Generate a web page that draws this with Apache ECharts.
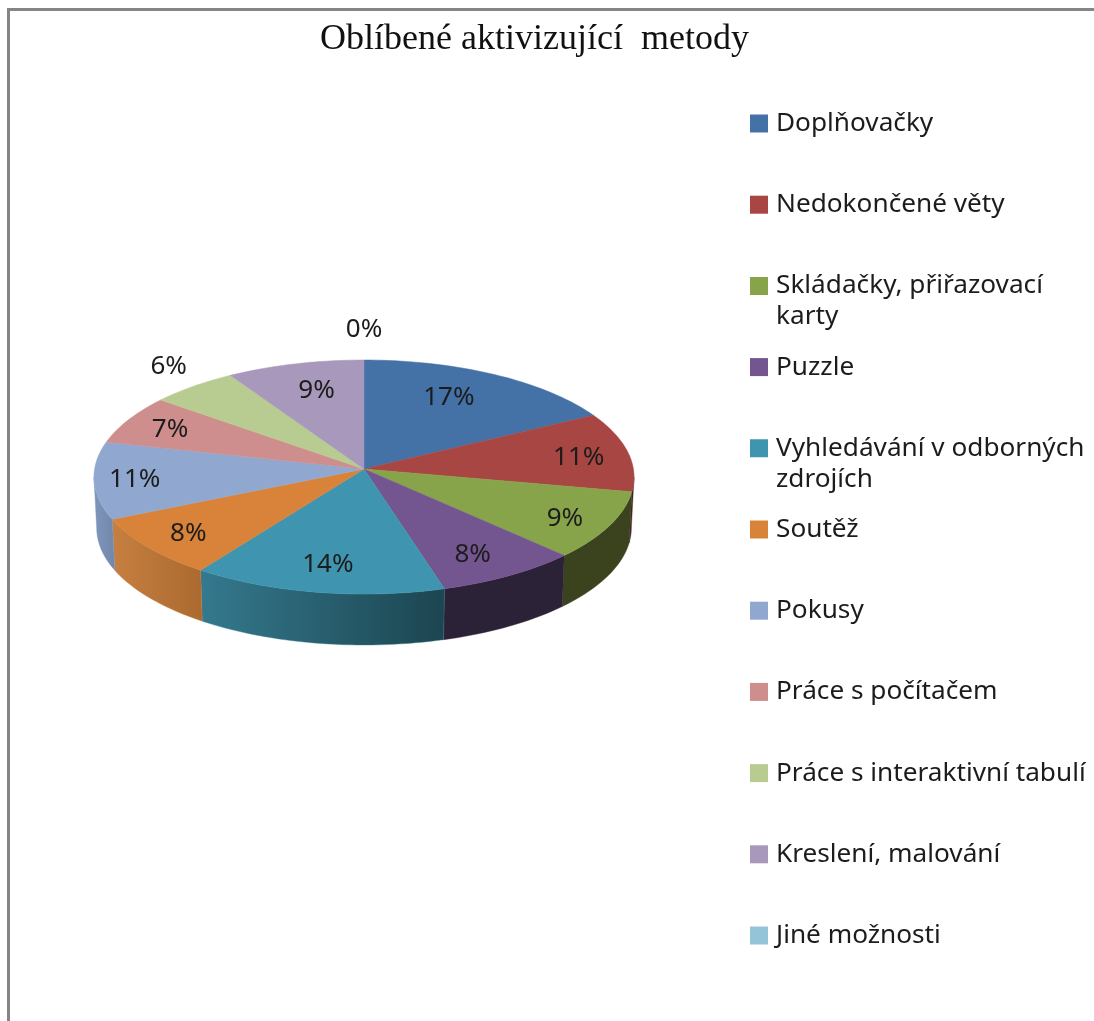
<!doctype html>
<html lang="cs">
<head>
    <meta charset="UTF-8">
    <title>Oblíbené aktivizující metody</title>
    <style>
        html, body { margin: 0; background: #fff; }
        #main { width: 1094px; height: 1021px; }
    </style>
    <script src="https://cdnjs.cloudflare.com/ajax/libs/echarts/6.0.0/echarts.min.js"></script>
</head>
<body>
    <div id="main"></div>
    <script>
        var categories = ['Doplňovačky', 'Nedokončené věty', 'Skládačky, přiřazovací karty', 'Puzzle',
            'Vyhledávání v odborných zdrojích', 'Soutěž', 'Pokusy', 'Práce s počítačem',
            'Práce s interaktivní tabulí', 'Kreslení, malování', 'Jiné možnosti'];
        var values = [17.1, 11, 9.4, 8, 14.2, 8.4, 10.7, 6.8, 5.6, 8.8, 0];
        var colors = ['#4471a6', '#a84643', '#88a44a', '#735590', '#3f95af', '#d98239', '#90a8cf', '#ce8e8d', '#b8cc91', '#a798bc', '#93c4d8'];
        // side wall shading, left and right end of each slice
        var wallColors = [['#2c4a6e', '#2c4a6e'], ['#4a2220', '#3c1c1b'], ['#3a421e', '#3a421e'], ['#2c2238', '#2c2238'],
            ['#34798e', '#1c4550'], ['#c67f40', '#ab6a30'], ['#7f96bc', '#7287a9'], ['#8a5f5e', '#8a5f5e'],
            ['#7d8a62', '#7d8a62'], ['#70667f', '#70667f'], ['#628492', '#628492']];
        // where the percent label sits: share of the radius, and turn from the slice's middle in degrees
        var labelReach = [0.73, 0.81, 0.83, 0.79, 0.78, 0.82, 0.85, 0.82, 1.22, 0.74, 1.31];
        var labelTurn = [-4, 1, 1, 1.5, 0, 0, 0, 0, 2.5, 1.4, 0];
        var wrappedNames = { 'Skládačky, přiřazovací karty': 'Skládačky, přiřazovací\nkarty', 'Vyhledávání v odborných zdrojích': 'Vyhledávání v odborných\nzdrojích' };

        var chartDom = document.getElementById('main');
        var myChart = echarts.init(chartDom);

        var cx = 364, cy = 469, rx = 269.4, ry = 116.45, tilt = 0.0684, depth = 51, bottomShrink = 0.99;
        var total = values.reduce(function (a, b) { return a + b; }, 0);

        // circle on the table -> picture, the front edge comes closer to the viewer
        function project(deg, reach) {
            var a = deg * Math.PI / 180;
            var u = Math.sin(a) * reach, v = -Math.cos(a) * reach;
            var d = 1 - tilt * v;
            return [cx + rx * u / d, cy + ry * v / d];
        }

        function rim(from, to) {
            var pts = [];
            var n = Math.max(2, Math.ceil((to - from) / 1.5));
            for (var i = 0; i <= n; i++) {
                pts.push(project(from + (to - from) * i / n, 1));
            }
            return pts;
        }

        function startAngle(index) {
            var sum = 0;
            for (var i = 0; i < index; i++) sum += values[i];
            return sum / total * 360;
        }

        function renderSlice(index) {
            return function (params, api) {
                var from = startAngle(index);
                var to = from + api.value(0) / total * 360;
                var children = [];
                if (to > from) {
                    // only the front part of the wall can be seen
                    var wallFrom = Math.max(from, 93.9), wallTo = Math.min(to, 266.1);
                    if (wallTo > wallFrom) {
                        var top = rim(wallFrom, wallTo);
                        var bottom = top.map(function (p) {
                            return [cx + (p[0] - cx) * bottomShrink, p[1] + depth];
                        }).reverse();
                        children.push({
                            type: 'polygon', z2: 1,
                            shape: { points: top.concat(bottom) },
                            style: {
                                fill: { type: 'linear', x: 0, y: 0, x2: 1, y2: 0, colorStops: [
                                    { offset: 0, color: wallColors[index][0] },
                                    { offset: 1, color: wallColors[index][1] }] },
                                stroke: wallColors[index][0], lineWidth: 0.4
                            }
                        });
                    }
                    children.push({
                        type: 'polygon', z2: 2,
                        shape: { points: [[cx, cy]].concat(rim(from, to)) },
                        style: { fill: colors[index], stroke: colors[index], lineWidth: 0.5 }
                    });
                }
                var pos = project((from + to) / 2 + labelTurn[index], labelReach[index]);
                children.push({
                    type: 'text', z2: 3,
                    x: pos[0], y: pos[1] + 1,
                    style: {
                        text: Math.round(api.value(0) / total * 100) + '%',
                        fill: '#1c1c1c', font: '26px "Noto Sans"',
                        align: 'center', verticalAlign: 'middle'
                    }
                });
                return { type: 'group', children: children };
            };
        }

        var option = {
            animation: false,
            title: {
                text: 'Oblíbené aktivizující  metody',
                left: 315, top: 17,
                textStyle: { fontFamily: '"Liberation Serif"', fontSize: 36, fontWeight: 'normal', color: '#111' }
            },
            // one legend per entry, Excel keeps them evenly spaced even when a name wraps
            legend: categories.map(function (name, i) {
                var wrapped = !!wrappedNames[name];
                return {
                    data: [name],
                    left: 745,
                    top: 118.5 + i * 81.2 - 15.5,
                    orient: 'vertical',
                    selectedMode: false,
                    itemWidth: 18,
                    itemHeight: wrapped ? 49 : 18,
                    icon: wrapped ? 'path://M0 0H18V18H0Z M0 49H0.01' : 'rect',
                    formatter: function (n) { return wrappedNames[n] || n; },
                    textStyle: { fontFamily: '"Noto Sans"', fontSize: 26.2, lineHeight: 31, color: '#1c1c1c', padding: [0, 0, 0, 3] }
                };
            }),
            graphic: [
                { type: 'polyline', silent: true, shape: { points: [[8.5, 1021], [8.5, 9.5], [1094, 9.5]] }, style: { stroke: '#858585', lineWidth: 3, fill: null } }
            ],
            series: categories.map(function (name, i) {
                return {
                    type: 'custom',
                    name: name,
                    coordinateSystem: 'none',
                    silent: true,
                    itemStyle: { color: colors[i] },
                    renderItem: renderSlice(i),
                    data: [[values[i]]]
                };
            })
        };
        myChart.setOption(option);
    </script>
</body>
</html>
